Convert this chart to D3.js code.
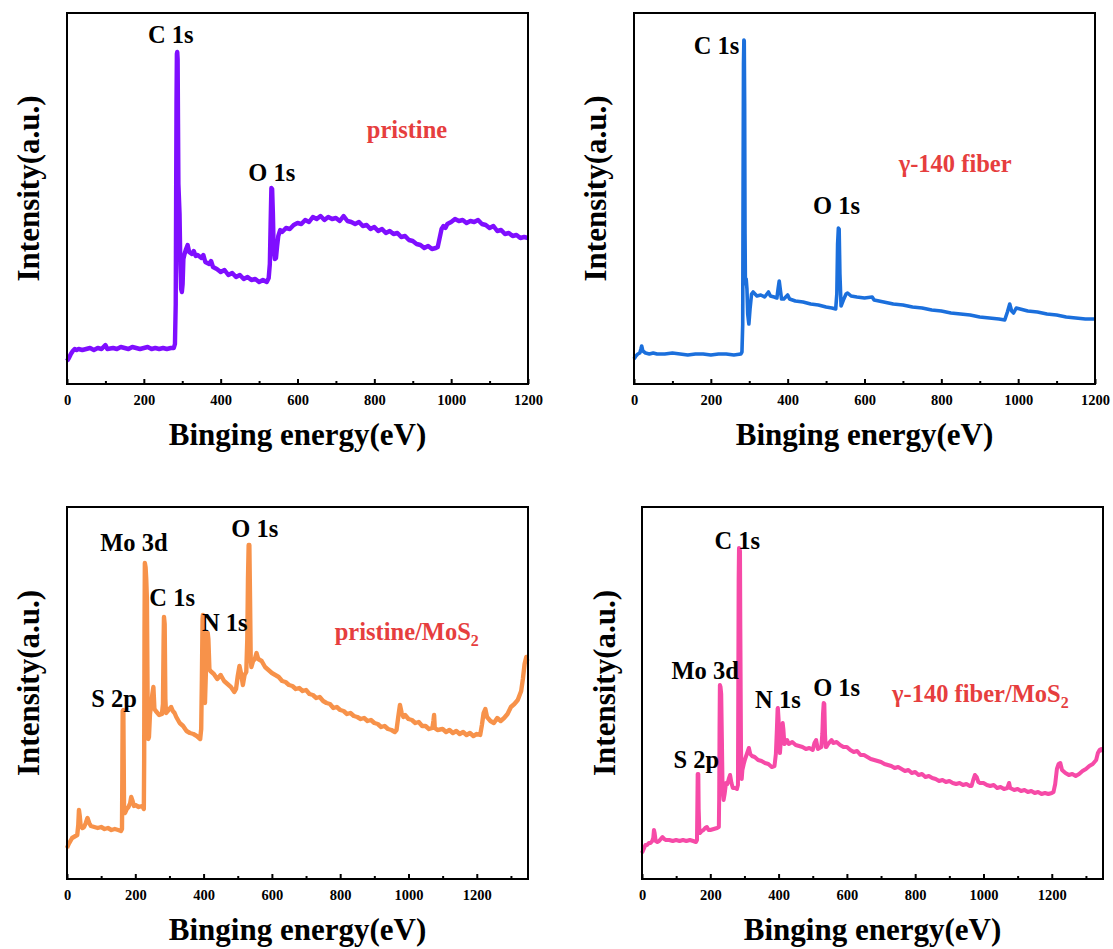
<!DOCTYPE html>
<html>
<head>
<meta charset="utf-8">
<script src="https://cdn.jsdelivr.net/npm/d3@7"></script>
<style>
  body { margin: 0; background: #fff; }
  svg text { font-family: "Liberation Serif", "Times New Roman", serif; font-weight: bold; }
</style>
</head>
<body>
<div id="chart"></div>
<script>
// XPS survey spectra, binding energy (eV) vs intensity (a.u.)
const majorTicks = [0, 200, 400, 600, 800, 1000, 1200];
const minorTicksShort = [100, 300, 500, 700, 900, 1100];
const minorTicksLong = [100, 300, 500, 700, 900, 1100, 1300];

const pristine = [[0,2.3],[5,2.6],[10,3.0],[15,3.3],[20,3.5],[25,3.4],[30,3.5],[40,3.4],[50,3.5],[60,3.6],[70,3.4],[80,3.6],[90,3.5],[100,3.9],[105,3.5],[120,3.6],[130,3.5],[140,3.7],[150,3.6],[160,3.5],[170,3.7],[180,3.6],[190,3.5],[200,3.6],[210,3.7],[220,3.5],[230,3.6],[240,3.5],[250,3.6],[260,3.5],[270,3.6],[278,3.6],[281,4.0],[283,8.0],[284,18.0],[285,28.0],[286,33.0],[287,33.2],[288,32.5],[289,26.0],[290,20.0],[291,19.0],[293,17.0],[295,12.0],[297,9.5],[299,9.2],[301,10.0],[303,12.5],[306,13.0],[310,13.5],[314,13.9],[318,13.2],[325,13.0],[330,13.3],[335,12.8],[340,12.9],[350,12.6],[355,12.9],[360,12.2],[370,12.0],[375,12.3],[380,11.7],[390,11.5],[400,11.2],[410,11.4],[420,10.9],[430,11.1],[440,10.7],[450,10.9],[460,10.5],[470,10.7],[480,10.4],[490,10.5],[500,10.2],[510,10.4],[520,10.2],[525,10.6],[528,12.0],[530,16.0],[532,19.6],[534,19.5],[536,17.0],[538,13.5],[541,12.5],[544,12.6],[547,13.8],[550,14.8],[555,15.4],[560,15.2],[570,15.6],[580,15.5],[590,15.9],[600,16.1],[610,16.0],[620,16.4],[630,16.2],[640,16.7],[650,16.5],[660,16.8],[670,16.4],[680,16.7],[690,16.5],[700,16.6],[710,16.3],[720,16.8],[730,16.3],[740,16.2],[750,16.0],[760,16.2],[770,15.8],[780,15.9],[790,15.5],[800,15.7],[810,15.3],[820,15.5],[830,15.1],[840,15.3],[850,15.0],[860,15.1],[870,14.7],[880,14.8],[890,14.4],[900,14.3],[910,14.0],[920,13.9],[930,13.6],[940,13.8],[950,13.5],[960,13.6],[965,13.7],[970,14.6],[975,15.5],[980,15.8],[985,15.6],[990,16.0],[1000,16.2],[1010,16.5],[1020,16.3],[1030,16.4],[1040,16.1],[1050,16.3],[1060,16.2],[1070,16.4],[1080,16.0],[1090,15.9],[1100,15.6],[1110,15.8],[1120,15.3],[1130,15.4],[1140,15.0],[1150,15.1],[1160,14.8],[1170,14.9],[1180,14.6],[1190,14.7],[1200,14.6]];

const fiber = [[0,2.5],[5,2.8],[10,3.0],[15,3.1],[18,3.5],[20,3.8],[23,3.3],[30,3.1],[40,3.0],[50,3.1],[60,3.0],[80,3.0],[100,3.1],[120,3.0],[140,2.9],[160,3.0],[180,3.0],[200,2.9],[220,3.0],[240,3.0],[260,2.9],[278,3.0],[281,3.2],[283,6.0],[284,20.0],[285,32.0],[286,34.4],[287,34.3],[288,28.0],[289,15.0],[290,10.0],[292,10.5],[294,9.5],[296,7.0],[299,6.0],[302,7.5],[306,9.0],[310,9.2],[315,9.0],[320,8.8],[330,8.9],[340,8.7],[350,9.2],[355,8.8],[365,8.7],[372,8.6],[375,9.5],[378,10.3],[381,9.4],[384,8.5],[390,8.5],[400,8.9],[405,8.5],[420,8.3],[440,8.2],[460,8.0],[480,7.9],[500,7.7],[515,7.6],[525,7.5],[528,9.0],[530,14.0],[532,15.6],[534,15.5],[536,11.0],[539,7.8],[545,8.4],[552,9.0],[556,9.1],[565,8.8],[580,8.7],[600,8.6],[620,8.7],[625,8.4],[650,8.2],[675,8.0],[700,7.9],[725,7.7],[750,7.6],[775,7.4],[800,7.3],[825,7.1],[850,7.0],[875,6.9],[900,6.7],[925,6.6],[950,6.5],[965,6.4],[972,7.2],[978,8.0],[983,7.3],[988,7.1],[995,7.6],[1005,7.5],[1025,7.3],[1050,7.2],[1075,7.0],[1100,6.9],[1125,6.7],[1150,6.6],[1175,6.5],[1200,6.5]];

const pristineMoS2 = [[0,3.1],[5,3.5],[10,3.8],[15,4.1],[20,4.2],[25,4.3],[30,4.4],[33,5.4],[35,6.9],[37,6.4],[40,5.3],[45,5.1],[50,5.2],[55,5.6],[60,6.1],[65,5.6],[70,5.3],[80,5.2],[90,5.1],[100,5.2],[110,5.0],[120,5.1],[130,4.9],[140,5.0],[150,4.9],[158,4.8],[161,5.0],[162,10.0],[163,16.8],[165,16.9],[166,12.0],[167,7.0],[170,6.6],[175,7.0],[180,7.2],[185,7.6],[188,8.2],[192,7.8],[196,7.3],[200,7.4],[210,7.2],[220,7.3],[225,7.0],[226,12.0],[227,25.0],[228,31.6],[230,31.2],[232,30.0],[234,28.0],[236,18.0],[238,14.0],[240,14.2],[243,16.5],[247,17.5],[250,18.5],[253,19.2],[256,17.0],[260,16.8],[265,16.6],[270,16.4],[278,16.5],[281,17.5],[283,24.0],[284,26.2],[286,25.5],[288,18.0],[290,16.6],[295,16.8],[300,17.0],[305,17.2],[310,16.8],[315,16.6],[320,16.2],[330,15.6],[340,15.3],[350,14.8],[360,14.6],[370,14.5],[380,14.3],[390,14.0],[393,15.0],[395,20.0],[397,26.0],[398,26.4],[400,25.0],[402,20.0],[404,17.6],[407,21.0],[410,23.5],[412,24.6],[414,24.0],[417,21.0],[420,20.8],[430,20.5],[440,20.0],[450,20.4],[460,19.8],[470,19.5],[480,19.2],[490,18.7],[495,19.0],[500,20.3],[505,21.3],[510,20.5],[515,19.4],[520,20.4],[525,20.7],[528,24.0],[530,30.0],[532,33.4],[534,33.4],[536,28.0],[538,22.0],[540,21.2],[545,21.8],[550,22.0],[555,22.6],[560,22.0],[570,21.8],[580,21.2],[590,20.9],[600,20.6],[610,20.4],[620,20.2],[630,19.8],[640,19.7],[650,19.4],[660,19.3],[670,19.0],[680,19.1],[690,18.8],[700,18.9],[710,18.5],[720,18.4],[730,18.1],[740,18.2],[750,17.8],[760,17.6],[770,17.5],[780,17.1],[790,17.2],[800,16.9],[810,16.8],[820,16.5],[830,16.6],[840,16.3],[850,16.2],[860,16.0],[870,16.1],[880,15.8],[890,15.9],[900,15.6],[910,15.5],[920,15.2],[930,15.3],[940,15.0],[950,14.9],[960,14.7],[965,14.9],[970,16.2],[975,17.4],[980,16.6],[985,16.2],[990,16.4],[1000,16.0],[1010,15.9],[1020,15.6],[1030,15.7],[1040,15.3],[1050,15.3],[1060,15.0],[1070,15.1],[1073,15.8],[1075,16.4],[1077,15.1],[1085,14.9],[1100,15.0],[1110,14.7],[1120,14.9],[1130,14.6],[1140,14.8],[1150,14.5],[1160,14.7],[1170,14.4],[1180,14.6],[1190,14.3],[1200,14.5],[1210,14.4],[1215,15.4],[1220,16.6],[1225,17.0],[1230,16.2],[1240,15.8],[1250,15.6],[1260,16.1],[1270,15.8],[1280,16.1],[1290,16.5],[1300,17.2],[1310,17.5],[1320,17.9],[1330,18.8],[1335,20.0],[1340,21.5],[1345,22.2],[1348,21.8]];

const fiberMoS2 = [[0,2.6],[5,3.0],[10,3.4],[15,3.4],[20,3.6],[25,3.6],[30,3.8],[33,4.1],[35,4.9],[37,4.6],[40,3.8],[45,3.7],[50,3.8],[55,4.0],[60,4.2],[65,4.0],[70,3.9],[80,3.9],[90,3.8],[100,3.9],[110,3.8],[120,3.9],[130,3.8],[140,3.9],[150,3.8],[158,3.7],[161,3.9],[162,7.0],[163,10.5],[165,10.5],[166,7.0],[168,4.8],[170,4.6],[175,4.8],[180,4.9],[185,5.1],[190,5.2],[195,4.9],[200,4.9],[210,5.0],[220,5.1],[225,5.2],[226,8.0],[227,15.0],[228,19.4],[230,19.2],[232,18.5],[234,14.0],[236,9.0],[239,7.9],[242,8.5],[246,9.6],[250,9.5],[254,10.0],[258,10.4],[262,9.6],[266,9.1],[272,9.1],[278,9.0],[281,9.4],[282,20.0],[283,30.0],[284,33.1],[286,33.0],[287,32.8],[288,25.0],[290,13.0],[292,10.0],[294,10.9],[298,11.5],[302,12.0],[306,12.4],[310,12.8],[313,13.1],[317,12.5],[322,12.3],[330,12.2],[340,11.9],[350,11.8],[360,11.6],[370,11.5],[380,11.2],[388,11.3],[392,12.5],[395,15.0],[397,17.0],[398,17.1],[400,16.0],[402,13.5],[404,12.6],[407,14.0],[410,15.2],[412,15.6],[414,15.0],[417,13.5],[420,13.6],[425,13.9],[430,13.5],[440,13.7],[450,13.4],[460,13.3],[470,13.2],[480,13.0],[490,13.1],[500,12.9],[505,13.6],[510,13.9],[515,13.0],[520,13.1],[525,13.2],[528,14.5],[530,16.5],[532,17.6],[534,17.5],[536,14.5],[538,13.2],[540,13.2],[545,13.5],[550,13.7],[555,13.9],[560,13.6],[570,13.7],[580,13.4],[590,13.2],[600,13.2],[610,12.9],[620,12.7],[630,12.8],[640,12.4],[650,12.4],[660,12.2],[670,12.0],[680,11.9],[690,11.8],[700,11.7],[710,11.5],[720,11.4],[730,11.3],[740,11.1],[750,11.2],[760,11.0],[770,10.8],[780,10.9],[790,10.6],[800,10.7],[810,10.4],[820,10.5],[830,10.2],[840,10.3],[850,10.1],[860,10.0],[870,9.8],[880,9.9],[890,9.7],[900,9.8],[910,9.6],[920,9.5],[930,9.6],[940,9.4],[950,9.5],[960,9.3],[965,9.3],[970,9.9],[975,10.4],[980,10.2],[985,9.7],[990,9.6],[1000,9.6],[1010,9.4],[1020,9.3],[1030,9.4],[1040,9.1],[1050,9.2],[1060,9.0],[1070,9.1],[1075,9.6],[1078,9.1],[1090,8.9],[1100,9.0],[1110,8.8],[1120,8.9],[1130,8.7],[1140,8.8],[1150,8.6],[1160,8.7],[1170,8.5],[1180,8.6],[1190,8.5],[1200,8.6],[1205,8.7],[1210,9.5],[1215,11.0],[1220,11.5],[1225,11.6],[1230,10.9],[1240,10.6],[1250,10.4],[1260,10.5],[1270,10.3],[1280,10.5],[1290,10.8],[1300,11.0],[1310,11.3],[1320,11.5],[1330,11.9],[1335,12.6],[1340,12.9],[1345,13.0],[1348,12.7]];

// peak labels: [text, eV of label centre, intensity at baseline]
const pristinePeaks = [["C 1s", 270, 34.1], ["O 1s", 533, 20.3]];
const fiberPeaks = [["C 1s", 215, 33.0], ["O 1s", 527, 17.0]];
const pristineMoS2Peaks = [["Mo 3d", 196, 32.8], ["O 1s", 550, 34.2], ["C 1s", 308, 27.3], ["N 1s", 462, 24.8], ["S 2p", 138, 17.2]];
const fiberMoS2Peaks = [["C 1s", 279, 33.0], ["Mo 3d", 185, 20.0], ["N 1s", 398, 17.1], ["O 1s", 570, 18.3], ["S 2p", 159, 11.1]];

const panels = [
  { data: pristine, peaks: pristinePeaks, color: "#7f0eff", width: 4.4, name: "pristine", sub: null, nameAt: [885, 24.6],
    left: 67, top: 13, w: 461, h: 371, xMax: 1200, minor: minorTicksShort, yTitleX: -39 },
  { data: fiber, peaks: fiberPeaks, color: "#1b6fdc", width: 3.6, name: "\u03b3-140 fiber", sub: null, nameAt: [836, 21.2],
    left: 634, top: 13, w: 461, h: 371, xMax: 1200, minor: minorTicksShort, yTitleX: -39 },
  { data: pristineMoS2, peaks: pristineMoS2Peaks, color: "#f7924a", width: 4.4, name: "pristine/MoS", sub: "2", nameAt: [995, 23.9],
    left: 67, top: 507, w: 461, h: 372, xMax: 1350, minor: minorTicksLong, yTitleX: -39 },
  { data: fiberMoS2, peaks: fiberMoS2Peaks, color: "#f64aa7", width: 4.0, name: "\u03b3-140 fiber/MoS", sub: "2", nameAt: [991, 17.7],
    left: 642, top: 507, w: 461, h: 372, xMax: 1350, minor: minorTicksLong, yTitleX: -38 }
];

const svg = d3.select("#chart").append("svg")
  .attr("width", 1113).attr("height", 949);

panels.forEach(function(p) {
  const x = d3.scaleLinear().domain([0, p.xMax]).range([0, p.w]);
  const y = d3.scaleLinear().domain([0, p.h / 10]).range([p.h, 0]);

  const g = svg.append("g").attr("transform", "translate(" + p.left + "," + p.top + ")");

  // spectrum
  const line = d3.line().x(d => x(d[0])).y(d => y(d[1]));
  g.append("path")
    .datum(p.data)
    .attr("fill", "none")
    .attr("stroke", p.color)
    .attr("stroke-width", p.width)
    .attr("stroke-linejoin", "round")
    .attr("d", line);

  // frame
  g.append("rect")
    .attr("width", p.w).attr("height", p.h)
    .attr("fill", "none").attr("stroke", "#000").attr("stroke-width", 2);

  // major ticks, pointing inward
  const ax = g.append("g").attr("transform", "translate(0," + p.h + ")")
    .call(d3.axisBottom(x).tickValues(majorTicks).tickSize(-5).tickPadding(11).tickFormat(d3.format("d")));
  ax.select(".domain").remove();
  ax.selectAll("line").attr("stroke-width", 2);
  ax.selectAll("text").attr("font-size", 14.5).attr("font-family", "'Liberation Serif','Times New Roman',serif")
    .attr("font-weight", "bold").attr("fill", "#000");

  // minor ticks
  const mx = g.append("g").attr("transform", "translate(0," + p.h + ")")
    .call(d3.axisBottom(x).tickValues(p.minor).tickSize(-3).tickFormat(""));
  mx.select(".domain").remove();
  mx.selectAll("line").attr("stroke-width", 2);

  // peak labels
  g.selectAll(".peak").data(p.peaks).enter().append("text")
    .attr("class", "peak")
    .attr("x", d => x(d[1])).attr("y", d => y(d[2]))
    .attr("text-anchor", "middle")
    .attr("font-size", 24.5)
    .attr("fill", "#000")
    .text(d => d[0]);

  // sample name
  const nm = g.append("text")
    .attr("x", x(p.nameAt[0])).attr("y", y(p.nameAt[1]))
    .attr("text-anchor", "middle")
    .attr("font-size", 24.5)
    .attr("fill", "#e63e3e")
    .text(p.name);
  if (p.sub) {
    nm.append("tspan").attr("font-size", 16).attr("dy", 6).text(p.sub);
  }

  // axis titles
  g.append("text")
    .attr("x", p.w / 2).attr("y", p.h + 61)
    .attr("text-anchor", "middle")
    .attr("font-size", 31)
    .attr("fill", "#000")
    .text("Binging energy(eV)");

  g.append("text")
    .attr("transform", "translate(" + p.yTitleX + "," + (p.h / 2 - 10) + ") rotate(-90)")
    .attr("text-anchor", "middle")
    .attr("dy", "0.35em")
    .attr("font-size", 31)
    .attr("fill", "#000")
    .text("Intensity(a.u.)");
});
</script>
</body>
</html>
